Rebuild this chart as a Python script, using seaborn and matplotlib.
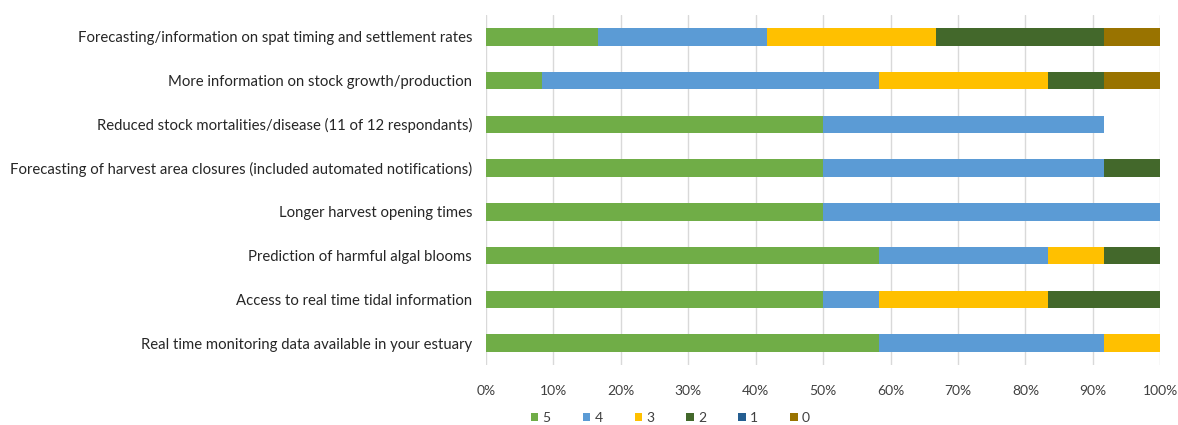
import numpy as np
import pandas as pd
import matplotlib
matplotlib.use("Agg")
import matplotlib.pyplot as plt
from matplotlib.patches import Patch
from matplotlib.ticker import PercentFormatter
import seaborn as sns

# Survey items (top to bottom) and counts of respondents per rating (12 respondents)
items = [
    "Forecasting/information on spat timing and settlement rates",
    "More information on stock growth/production",
    "Reduced stock mortalities/disease (11 of 12 respondants)",
    "Forecasting of harvest area closures (included automated notifications)",
    "Longer harvest opening times",
    "Prediction of harmful algal blooms",
    "Access to real time tidal information",
    "Real time monitoring data available in your estuary",
]
respondents = 12
rating_5 = [2, 1, 6, 6, 6, 7, 6, 7]
rating_4 = [3, 6, 5, 5, 6, 3, 1, 4]
rating_3 = [3, 3, 0, 0, 0, 1, 3, 1]
rating_2 = [3, 1, 0, 1, 0, 1, 2, 0]
rating_1 = [0, 0, 0, 0, 0, 0, 0, 0]
rating_0 = [1, 1, 0, 0, 0, 0, 0, 0]

ratings = ["5", "4", "3", "2", "1", "0"]
colors = ["#70AD47", "#5B9BD5", "#FFC000", "#43682B", "#255E91", "#997300"]

df = pd.DataFrame(
    {"5": rating_5, "4": rating_4, "3": rating_3,
     "2": rating_2, "1": rating_1, "0": rating_0},
    index=items,
) / respondents * 100
cum = df.cumsum(axis=1)

sns.set_theme(style="white")
plt.rcParams["font.family"] = ["Lato", "DejaVu Sans"]

fig = plt.figure(figsize=(11.78, 4.25), dpi=100)
ax = fig.add_axes([0.4125, 0.141, 0.5725, 0.824])

# Stacked bars: draw cumulative totals from the last rating back to the first
for r, c in zip(reversed(ratings), reversed(colors)):
    sns.barplot(x=cum[r].values, y=items, orient="h", color=c,
                width=0.4, linewidth=0, saturation=1, ax=ax, zorder=3)

ax.set_xlim(0, 100)
ax.set_ylim(7.5, -0.5)
ax.set_xticks(np.arange(0, 101, 10))
ax.xaxis.set_major_formatter(PercentFormatter(decimals=0))
ax.grid(axis="x", color="#D9D9D9", linewidth=1)
ax.grid(axis="y", visible=False)
for s in ax.spines.values():
    s.set_visible(False)
ax.tick_params(axis="x", length=0, pad=14, labelsize=10, labelcolor="#404040")
ax.tick_params(axis="y", length=0, pad=10, labelsize=10.7, labelcolor="#262626")
ax.set_xlabel("")
ax.set_ylabel("")

handles = [Patch(facecolor=c, edgecolor="none", label=r) for r, c in zip(ratings, colors)]
fig.legend(handles=handles, loc="center", bbox_to_anchor=(0.569, 0.017),
           ncol=6, frameon=False, fontsize=10, handlelength=0.55, handleheight=0.55,
           handletextpad=0.3, columnspacing=2.3, labelcolor="#404040")

fig.savefig("out.png", dpi=100)
